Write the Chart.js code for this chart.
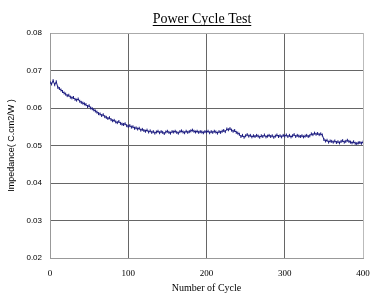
<!DOCTYPE html>
<html>
<head>
<meta charset="utf-8">
<script src="https://cdn.jsdelivr.net/npm/chart.js@4/dist/chart.umd.min.js"></script>
<style>
  html, body { margin: 0; padding: 0; background: #fff; }
  #chart { display: block; }
</style>
</head>
<body>
<canvas id="chart" width="375" height="302"></canvas>
<script>
// Power Cycle Test — impedance vs cycle number

const TITLE = 'Power Cycle Test';
const X_TITLE = 'Number of Cycle';
const Y_TITLE = 'Impedance( C.cm2/W )';

// one reading every 2 cycles, 0..400
const cycleStep = 2;
const impedance = [
  0.0668, 0.0664, 0.0673, 0.0662, 0.0670, 0.0655, 0.0652, 0.0648, 0.0644, 0.0640,
  0.0637, 0.0633, 0.0634, 0.0629, 0.0627, 0.0628, 0.0623, 0.0621, 0.0624, 0.0618,
  0.0615, 0.0613, 0.0611, 0.0609, 0.0604, 0.0606, 0.0600, 0.0598, 0.0595, 0.0592,
  0.0589, 0.0585, 0.0584, 0.0580, 0.0582, 0.0577, 0.0575, 0.0572, 0.0574, 0.0569,
  0.0566, 0.0567, 0.0563, 0.0561, 0.0564, 0.0559, 0.0557, 0.0556, 0.0558, 0.0553,
  0.0551, 0.0553, 0.0549, 0.0550, 0.0546, 0.0547, 0.0544, 0.0546, 0.0541, 0.0543,
  0.0540, 0.0538, 0.0541, 0.0536, 0.0539, 0.0535, 0.0537, 0.0533, 0.0536, 0.0538,
  0.0534, 0.0537, 0.0535, 0.0532, 0.0536, 0.0538, 0.0535, 0.0533, 0.0537, 0.0536,
  0.0538, 0.0535, 0.0533, 0.0537, 0.0539, 0.0536, 0.0534, 0.0538, 0.0535, 0.0537,
  0.0539, 0.0541, 0.0538, 0.0536, 0.0538, 0.0535, 0.0537, 0.0536, 0.0534, 0.0537,
  0.0536, 0.0538, 0.0534, 0.0537, 0.0535, 0.0538, 0.0536, 0.0533, 0.0537, 0.0535,
  0.0538, 0.0540, 0.0537, 0.0544, 0.0542, 0.0545, 0.0541, 0.0538, 0.0540, 0.0535,
  0.0533, 0.0530, 0.0524, 0.0527, 0.0522, 0.0526, 0.0529, 0.0525, 0.0527, 0.0523,
  0.0526, 0.0524, 0.0527, 0.0525, 0.0522, 0.0526, 0.0524, 0.0528, 0.0523, 0.0525,
  0.0527, 0.0524, 0.0526, 0.0522, 0.0525, 0.0528, 0.0524, 0.0526, 0.0523, 0.0527,
  0.0525, 0.0528, 0.0524, 0.0527, 0.0523, 0.0526, 0.0529, 0.0524, 0.0527, 0.0525,
  0.0524, 0.0526, 0.0523, 0.0525, 0.0527, 0.0524, 0.0526, 0.0531, 0.0529, 0.0533,
  0.0530, 0.0532, 0.0529, 0.0531, 0.0528, 0.0516, 0.0512, 0.0514, 0.0509, 0.0512,
  0.0511, 0.0509, 0.0512, 0.0508, 0.0510, 0.0507, 0.0511, 0.0513, 0.0509, 0.0511,
  0.0514, 0.0511, 0.0509, 0.0507, 0.0510, 0.0506, 0.0505, 0.0507, 0.0508, 0.0506,
  0.0509
];

const xTicks = [0, 100, 200, 300, 400];
const yTicks = [0.02, 0.03, 0.04, 0.05, 0.06, 0.07, 0.08];

const points = impedance.map((v, i) => ({ x: i * cycleStep, y: v }));

// underlined title, drawn on the canvas
const underlineTitle = {
  id: 'underlineTitle',
  afterDraw(chart) {
    const ctx = chart.ctx;
    ctx.save();
    ctx.font = '14px "Liberation Serif", "Times New Roman", serif';
    ctx.fillStyle = '#000';
    ctx.textAlign = 'center';
    ctx.textBaseline = 'alphabetic';
    const cx = 202, base = 23;
    ctx.fillText(TITLE, cx, base);
    const w = ctx.measureText(TITLE).width;
    ctx.strokeStyle = '#000';
    ctx.lineWidth = 1;
    ctx.beginPath();
    ctx.moveTo(cx - w / 2, base + 2.5);
    ctx.lineTo(cx + w / 2, base + 2.5);
    ctx.stroke();
    ctx.restore();
  }
};

new Chart(document.getElementById('chart'), {
  type: 'line',
  data: {
    datasets: [{
      label: 'Impedance',
      data: points,
      borderColor: '#1c1c80',
      borderWidth: 1,
      pointStyle: 'line',
      rotation: 90,
      pointRadius: 1.5,
      pointBorderWidth: 1,
      pointBorderColor: '#1c1c80',
      tension: 0
    }]
  },
  options: {
    responsive: false,
    animation: false,
    layout: { padding: { top: 33, right: 12, left: 0, bottom: 0 } },
    plugins: {
      legend: { display: false },
      title: { display: false },
      tooltip: { enabled: false }
    },
    scales: {
      x: {
        type: 'linear',
        min: 0, max: 400,
        afterFit: s => { s.height = 44; s.paddingLeft = 0; s.paddingRight = 6; },
        afterBuildTicks: s => { s.ticks = xTicks.map(v => ({ value: v })); },
        border: { color: '#999', width: 1 },
        grid: { color: '#666', lineWidth: 1, drawTicks: false },
        ticks: {
          padding: 10,
          color: '#000',
          maxRotation: 0,
          font: { family: '"Liberation Serif", "Times New Roman", serif', size: 9 }
        },
        title: {
          display: true, text: X_TITLE, color: '#000',
          padding: { top: 0, bottom: 8 },
          font: { family: '"Liberation Serif", "Times New Roman", serif', size: 10 }
        }
      },
      y: {
        min: 0.02, max: 0.08,
        afterFit: s => { s.width = 50; },
        afterBuildTicks: s => { s.ticks = yTicks.map(v => ({ value: v })); },
        border: { color: '#999', width: 1 },
        grid: { color: ctx => ctx.index === yTicks.length - 1 ? '#aaa' : '#666', lineWidth: 1, drawTicks: false },
        ticks: {
          padding: 8,
          color: '#000',
          callback: v => v.toFixed(2),
          font: { family: '"Liberation Sans", Arial, sans-serif', size: 8 }
        },
        title: {
          display: true, text: Y_TITLE, color: '#000',
          padding: { top: 6, bottom: 0 },
          font: { family: '"Liberation Sans", Arial, sans-serif', size: 9 }
        }
      }
    }
  },
  plugins: [underlineTitle, {
    // light frame on the right edge of the plot
    id: 'rightFrame',
    afterDraw(chart) {
      const a = chart.chartArea, ctx = chart.ctx;
      ctx.save();
      ctx.strokeStyle = '#bbb';
      ctx.lineWidth = 1;
      ctx.beginPath();
      ctx.moveTo(a.right + 0.5, a.top);
      ctx.lineTo(a.right + 0.5, a.bottom);
      ctx.stroke();
      ctx.restore();
    }
  }]
});
</script>
</body>
</html>
